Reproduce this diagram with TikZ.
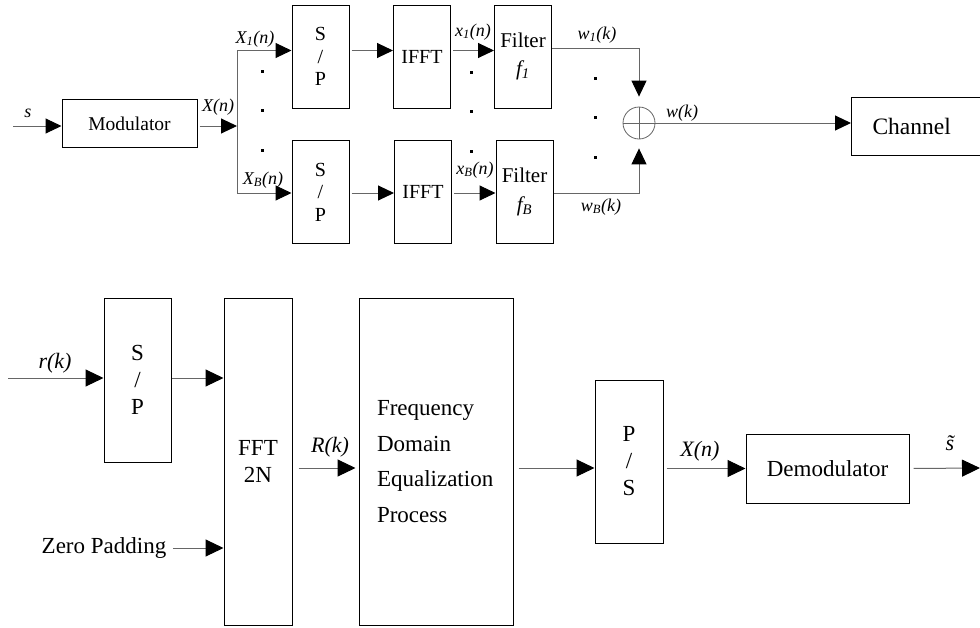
\documentclass[tikz,border=0pt]{standalone}
\usepackage{fontspec}
\setmainfont{Liberation Serif}
\usetikzlibrary{arrows.meta,positioning}

\begin{document}
\begin{tikzpicture}[x=1pt,y=-1pt,line width=1pt,
 box/.style={draw,inner sep=0pt,align=center,font=\fontsize{20}{22.5}\selectfont},
 tall/.style={box,minimum width=57pt,minimum height=103pt},
 big/.style={font=\fontsize{23}{27}\selectfont},
 lbl/.style={inner sep=0pt,font=\itshape\fontsize{18}{20}\selectfont},
 blbl/.style={inner sep=0pt,font=\itshape\fontsize{22}{24}\selectfont},
 arrow/.style={-{Triangle[length=16pt,width=15pt,color=black]},draw=black!60},
 barrow/.style={-{Triangle[length=18pt,width=17pt,color=black]},draw=black!60},
 dot/.style={fill,inner sep=0pt,minimum size=3pt},
 sum/.style={circle,draw=black!60,line width=0.8pt,minimum size=32pt,
  path picture={\draw[black!60,line width=0.8pt] (path picture bounding box.north)--(path picture bounding box.south)
  (path picture bounding box.west)--(path picture bounding box.east);}}]
\useasboundingbox (0,0) rectangle (980,627);
% transmitter
\node[box,minimum width=135pt,minimum height=48pt,font=\fontsize{19.5}{22}\selectfont] (mod) at (129.5,123.5) {Modulator};
\node[tall] (sp1) at (320.5,56.5) {S\\/\\P};
\node[tall] (sp2) at (320.5,192) {S\\/\\P};
\node[tall] (ifft1) at (422,56.5) {IFFT};
\node[tall] (ifft2) at (423,192) {IFFT};
\node[tall,font=\fontsize{21}{22.5}\selectfont] (filt1) at (523,56.5) {Filter\\[6pt]\textit{f\textsubscript{1}}};
\node[tall,font=\fontsize{21}{22.5}\selectfont] (filt2) at (524.5,192) {Filter\\[6pt]\textit{f\textsubscript{B}}};
\node[sum] (sum) at (639,123) {};
\node[box,anchor=west,minimum height=58pt,text width=97pt,inner xsep=21pt,align=left,
 font=\fontsize{23.5}{26}\selectfont] (chan) at (851,126) {Channel};
\coordinate (sin) at (13,126);
\coordinate (split) at (237,126);
\draw[arrow] (sin) -- (sin -| mod.west);
\draw[arrow,shorten <=2pt] (mod.east |- split) -- (split);
\draw[arrow] (split) |- ([yshift=6pt]sp1.west);
\draw[arrow] (split) |- ([yshift=-1pt]sp2.west);
\foreach \a/\b/\s in {sp1/ifft1/6,ifft1/filt1/6,sp2/ifft2/-1,ifft2/filt2/-1}
 \draw[arrow,shorten <=2pt] ([yshift=\s pt]\a.east) -- ([yshift=\s pt]\b.west);
\draw[arrow,shorten >=10pt] ([yshift=8.5pt]filt1.east) -| (sum);
\draw[arrow,shorten >=9pt] ([yshift=-1pt]filt2.east) -| (sum);
\draw[arrow] (sum) -- (sum -| chan.west);
\node[lbl] (s) at (28,113) {s};
\node[lbl] (xn) at (218,107) {X(n)};
\node[lbl] (x1) at (255,39) {X\textsubscript{1}(n)};
\node[lbl] (xb) at (263,180) {X\textsubscript{B}(n)};
\node[lbl] (y1) at (473,32) {x\textsubscript{1}(n)};
\node[lbl] (yb) at (475,170) {x\textsubscript{B}(n)};
\node[lbl] (w1) at (597,35) {w\textsubscript{1}(k)};
\node[lbl] (wb) at (601,207) {w\textsubscript{B}(k)};
\node[lbl] (w) at (682,113) {w(k)};
\foreach \x/\y/\c in {262/71/a,471/72/b,595/78/c}
 \foreach \k in {0,1,2} \node[dot] (\c\k) at (\x,\y+39.5*\k) {};
% receiver
\node[box,big,minimum width=67pt,minimum height=164pt] (spr) at (137.5,380) {S\\/\\P};
\node[box,big,minimum width=68pt,minimum height=327pt] (fft) at (258,461.5) {FFT\\2N};
\node[box,minimum height=327pt,text width=118pt,inner xsep=18pt,align=left,
 font=\fontsize{23}{35.5}\selectfont] (eq) at (436,461.5) {Frequency\\Domain\\Equalization\\Process};
\node[box,big,minimum width=68pt,minimum height=163pt] (ps) at (629,461.5) {P\\/\\S};
\node[box,big,minimum width=163pt,minimum height=69pt] (demod) at (827.5,468.5) {Demodulator};
\node[big,inner sep=3pt] (zp) at (104,548) {Zero Padding};
\coordinate (rin) at (8,378);
\coordinate (sout) at (980,468);
\draw[barrow] (rin) -- (rin -| spr.west);
\draw[barrow] (spr.east |- rin) -- (rin -| fft.west);
\draw[barrow,shorten <=3pt] (zp) -- (zp -| fft.west);
\draw[barrow,shorten <=6pt,shorten >=3pt] ([yshift=-6.5pt]fft.east) -- ([yshift=-6.5pt]eq.west);
\draw[barrow,shorten <=5pt] ([yshift=-6.5pt]eq.east) -- ([yshift=-6.5pt]ps.west);
\draw[barrow,shorten <=3pt] (ps.east |- demod) -- (demod.west);
\draw[barrow,shorten <=4pt] (demod.east) -- (sout);
\node[blbl] (rk) at (55,363) {r(k)};
\node[blbl] (Rk) at (330,447) {R(k)};
\node[blbl] (xo) at (700,451) {X(n)};
\node[blbl] (st) at (950,443) {\~{s}};
\end{tikzpicture}
\end{document}
